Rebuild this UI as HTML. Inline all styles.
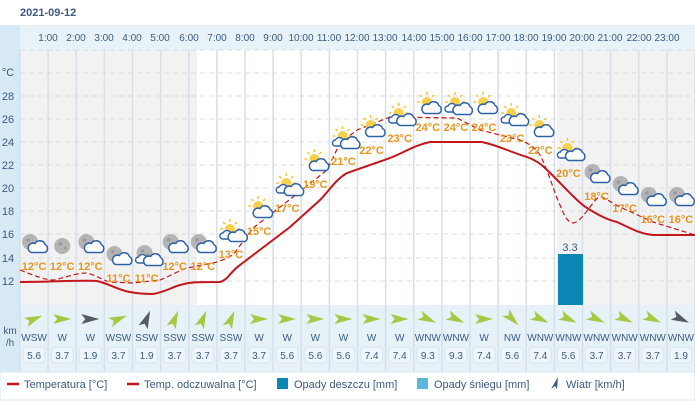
<!DOCTYPE html>
<html><head><meta charset="utf-8"><style>
body{margin:0;background:#fff;width:695px;height:408px;overflow:hidden;font-family:"Liberation Sans",sans-serif}
</style></head><body>
<svg width="695" height="408" xmlns="http://www.w3.org/2000/svg" font-family="Liberation Sans, sans-serif">
<defs>
<g id="sun"><g stroke="#f4c030" stroke-width="1.4"><line x1="0" y1="-10" x2="0" y2="-7"/><line x1="-7" y1="-7" x2="-5" y2="-5"/><line x1="7" y1="-7" x2="5" y2="-5"/><line x1="-10" y1="0" x2="-7" y2="0"/><line x1="10" y1="0" x2="7" y2="0"/></g><circle r="5" fill="#f8d04a"/></g>
<g id="moon"><circle r="8" fill="#b4b4b4"/><circle cx="-2" cy="-2" r="1.8" fill="#9a9a9a"/><circle cx="3" cy="2" r="1.4" fill="#9a9a9a"/></g>
<g id="cloud"><path d="M-8,4.5 h14 a4.5,4.5 0 0 0 0,-8 a5.5,5.5 0 0 0 -10,-1 a4,4 0 0 0 -4,9z" fill="#fff" stroke="#2d62a8" stroke-width="1.5"/></g>
<g id="cloud2"><path d="M-13,3 h8 a3.5,3.5 0 0 0 0,-6 a4.5,4.5 0 0 0 -8,0 a3,3 0 0 0 0,6z" fill="#fff" stroke="#2d62a8" stroke-width="1.4"/><use href="#cloud" x="3" y="1"/></g>
<g id="arrow"><path d="M-9,-5 L9,0 L-9,5 L-5,0Z"/></g>
</defs>
<text x="20" y="16" font-size="11" font-weight="bold" fill="#3d5a80">2021-09-12</text>
<rect x="0" y="25" width="695" height="347" fill="#d6e9f4"/>
<rect x="20" y="25" width="675" height="25" fill="#e8f3f9"/>
<rect x="20" y="50" width="177" height="255" fill="#f2f2f2"/>
<rect x="197" y="50" width="360" height="255" fill="#fff"/>
<rect x="557" y="50" width="138" height="255" fill="#f2f2f2"/>
<rect x="20" y="305" width="675" height="67" fill="#e6f1f8"/>
<g stroke="#dcdcdc" stroke-dasharray="5,4" stroke-width="1">
<line x1="20" y1="50" x2="695" y2="50"/><line x1="20" y1="73" x2="695" y2="73"/><line x1="20" y1="96" x2="695" y2="96"/><line x1="20" y1="119" x2="695" y2="119"/><line x1="20" y1="142" x2="695" y2="142"/><line x1="20" y1="165" x2="695" y2="165"/><line x1="20" y1="188" x2="695" y2="188"/><line x1="20" y1="211" x2="695" y2="211"/><line x1="20" y1="234" x2="695" y2="234"/><line x1="20" y1="258" x2="695" y2="258"/><line x1="20" y1="281" x2="695" y2="281"/>
</g>
<g stroke="#d8dfea" stroke-width="1.5" id="vl"></g>
<g font-size="10" fill="#3d5a80" text-anchor="middle">
<text x="48" y="41">1:00</text><text x="76" y="41">2:00</text><text x="104" y="41">3:00</text><text x="132" y="41">4:00</text><text x="160" y="41">5:00</text><text x="189" y="41">6:00</text><text x="217" y="41">7:00</text><text x="245" y="41">8:00</text><text x="273" y="41">9:00</text><text x="301" y="41">10:00</text><text x="329" y="41">11:00</text><text x="357" y="41">12:00</text><text x="385" y="41">13:00</text><text x="414" y="41">14:00</text><text x="442" y="41">15:00</text><text x="470" y="41">16:00</text><text x="498" y="41">17:00</text><text x="526" y="41">18:00</text><text x="554" y="41">19:00</text><text x="582" y="41">20:00</text><text x="610" y="41">21:00</text><text x="639" y="41">22:00</text><text x="667" y="41">23:00</text>
</g>
<g font-size="11" fill="#3d5a80" text-anchor="middle">
<text x="8" y="76">°C</text><text x="8" y="100">28</text><text x="8" y="123">26</text><text x="8" y="146">24</text><text x="8" y="169">22</text><text x="8" y="192">20</text><text x="8" y="215">18</text><text x="8" y="238">16</text><text x="8" y="262">14</text><text x="8" y="285">12</text>
<text x="10" y="334" font-size="10">km</text><text x="10" y="346" font-size="10">/h</text>
</g>
<rect x="558" y="254" width="25" height="51" fill="#0a86b4"/>
<text x="570" y="251" font-size="11" fill="#3d5a80" text-anchor="middle">3.3</text>
<path d="M20,282 C50,282 80,280 97,281 C110,284 118,290 130,292 C140,294 148,294 153,294 C165,292 170,288 180,285 C190,282 195,282 220,282 C228,280 230,272 240,265 L290,227 L320,200 C330,190 335,180 347,173 L390,158 C405,152 415,145 430,142 L482,142 C500,146 510,152 527,157 C535,160 540,163 545,168 C560,182 575,200 587,208 C600,216 608,220 617,222 C630,228 640,234 653,235 L695,235" fill="none" stroke="#c4161c" stroke-width="2"/>
<path d="M20,270 C35,276 45,280 53,280 C65,278 75,273 87,273 C98,276 104,281 110,282 L133,283 L160,280 C170,276 180,270 187,268 L213,263 C225,260 228,257 233,255 L253,228 L293,197 L327,170 L340,143 L357,130 L390,117 L457,118 L480,130 L520,140 C530,144 535,148 540,155 C548,170 555,195 560,205 C565,218 568,222 573,223 C580,222 586,212 593,203 C596,199 598,197 602,197 L620,207 L653,222 L695,235" fill="none" stroke="#c4161c" stroke-width="1.2" stroke-dasharray="5,3"/>
<g id="icons"></g>
<g font-size="11" font-weight="bold" fill="#e8951e" text-anchor="middle" id="tl"></g>
<g id="wind"></g>
<rect x="0" y="372" width="695" height="28" fill="#fff" stroke="#d6e9f4"/>
<g font-size="11" fill="#3d5a80">
<line x1="7" y1="384" x2="19" y2="384" stroke="#c4161c" stroke-width="2.5"/><text x="24" y="388">Temperatura [°C]</text>
<line x1="127" y1="384" x2="139" y2="384" stroke="#c4161c" stroke-width="2.5"/><text x="144" y="388">Temp. odczuwalna [°C]</text>
<rect x="277" y="378" width="11" height="11" fill="#0a86b4"/><text x="294" y="388">Opady deszczu [mm]</text>
<rect x="417" y="378" width="11" height="11" fill="#5bb8dc"/><text x="434" y="388">Opady śniegu [mm]</text>
<path d="M551,389 L558,377 L557,389 L555,386Z" fill="#3d5a80"/><text x="566" y="388">Wiatr [km/h]</text>
</g>
</svg>
<script>
var ns="http://www.w3.org/2000/svg";
function el(p,t,a,txt){var e=document.createElementNS(ns,t);for(var k in a)e.setAttribute(k,a[k]);if(txt)e.textContent=txt;document.getElementById(p).appendChild(e);return e;}
for(var i=0;i<=24;i++){var x=20+i*28.125;el('vl','line',{x1:x,y1:50,x2:x,y2:372});}
var T=[12,12,12,11,11,12,12,13,15,17,19,21,22,23,24,24,24,23,22,20,18,17,16,16];
var LY=[266,266,266,278,278,266,266,254,231,208,184,161,150,138,127,127,127,138,150,173,196,208,219,219];
var typ=['mc','m','mc','mc','c2','mc','mc','sc','sc','sc','sc','sc','sc','sc','sc','sc','sc','sc','sc','sc','mc','mc','mc','mc'];
var D=['WSW','W','W','WSW','SSW','SSW','SSW','SSW','W','W','W','W','W','W','WNW','WNW','W','NW','WNW','WNW','WNW','WNW','WNW','WNW'];
var S=['5.6','3.7','1.9','3.7','1.9','3.7','3.7','3.7','3.7','5.6','5.6','5.6','7.4','7.4','9.3','9.3','7.4','5.6','7.4','5.6','3.7','3.7','3.7','1.9'];
var R={W:0,WSW:-22,SSW:-67,WNW:25,NW:45};
for(var i=0;i<24;i++){var cx=20+(i+0.5)*28.125,cy=LY[i]-20;
 var t=typ[i];
 if(t=='m'){el('icons','use',{href:'#moon',x:cx,y:cy});}
 else if(t=='mc'){el('icons','use',{href:'#moon',x:cx-4,y:cy-4});el('icons','use',{href:'#cloud',x:cx+5,y:cy+2});}
 else if(t=='c2'){el('icons','use',{href:'#moon',x:cx-2,y:cy-5});el('icons','use',{href:'#cloud2',x:cx+5,y:cy+2});}
 else {el('icons','use',{href:'#sun',x:cx-1,y:cy-5});el('icons','use',{href:(i%2?'#cloud2':'#cloud'),x:cx+5,y:cy+2});}
 el('tl','text',{x:cx,y:LY[i]+4},T[i]+'°C');
 var g=el('wind','g',{transform:'translate('+cx+',319) rotate('+R[D[i]]+')',fill:(S[i]=='1.9'?'#555c63':'#a6c843')});
 var u=document.createElementNS(ns,'use');u.setAttribute('href','#arrow');g.appendChild(u);
 el('wind','text',{x:cx,y:341,'font-size':10,fill:'#3d5a80','text-anchor':'middle'},D[i]);
 el('wind','rect',{x:cx-11,y:347,width:22,height:16,rx:4,fill:'#eef6fb',stroke:'#d5e6f0'});
 el('wind','text',{x:cx,y:359,'font-size':10,fill:'#3d5a80','text-anchor':'middle'},S[i]);
}
</script>
</body></html>
